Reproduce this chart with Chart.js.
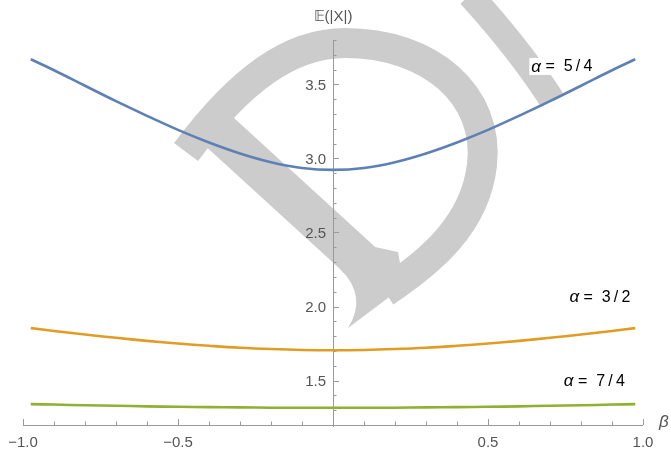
<!DOCTYPE html>
<html>
<head>
<meta charset="utf-8">
<script src="https://cdn.jsdelivr.net/npm/chart.js@4"></script>
<style>
html,body{margin:0;padding:0;background:#fff;}
#wrap{width:671px;height:452px;position:relative;}
</style>
</head>
<body>
<div id="wrap"><canvas id="c" width="671" height="452"></canvas></div>
<script>
// ---- data ----
const betaValues = [-0.975,-0.9,-0.8,-0.7,-0.6,-0.5,-0.4,-0.3,-0.2,-0.1,0,0.1,0.2,0.3,0.4,0.5,0.6,0.7,0.8,0.9,0.975];
const alpha54 = [3.67,3.596,3.491,3.387,3.288,3.193,3.108,3.034,2.975,2.936,2.923,2.936,2.975,3.034,3.108,3.193,3.288,3.387,3.491,3.596,3.67];
const alpha32 = [1.854,1.835,1.811,1.789,1.768,1.750,1.735,1.722,1.713,1.707,1.705,1.707,1.713,1.722,1.735,1.750,1.768,1.789,1.811,1.835,1.854];
const alpha74 = [1.341,1.338,1.333,1.330,1.326,1.323,1.321,1.319,1.317,1.317,1.316,1.317,1.317,1.319,1.321,1.323,1.326,1.330,1.333,1.338,1.341];
const seriesNames = ['5/4','3/2','7/4'];
const xTickLabels = ['\u22121.0','\u22120.5','0.5','1.0'];
const xTickValues = [-1,-0.5,0.5,1];
const yTickLabels = ['1.5','2.0','2.5','3.0','3.5'];
const yTickValues = [1.5,2.0,2.5,3.0,3.5];
const labelPos = [[0.738,3.618],[0.861,2.06],[0.843,1.496]];

const colors = ['#5E81B5','#E19C24','#8FB032'];
const toPts = arr => betaValues.map((b,i)=>({x:b,y:arr[i]}));

const watermark = {
  id:'watermark',
  beforeDatasetsDraw(chart){
    const ctx = chart.ctx;
    ctx.save();
    ctx.fillStyle = '#cccccc';
    ctx.strokeStyle = '#cccccc';
    ctx.lineCap = 'butt';
    // top arc + bowl
    ctx.lineWidth = 30;
    ctx.beginPath();
    ctx.moveTo(186,152);
    ctx.bezierCurveTo(240,80,290,43,345,43);
    ctx.bezierCurveTo(430,43,490,95,482,165);
    ctx.bezierCurveTo(475,225,430,262,385,292);
    ctx.stroke();
    // stem
    ctx.lineWidth = 40;
    ctx.beginPath();
    ctx.moveTo(212,125);
    ctx.lineTo(362,262);
    ctx.stroke();
    // hooked tail joining stem and bowl
    ctx.beginPath();
    ctx.moveTo(340,269);
    ctx.quadraticCurveTo(368,296,348,328);
    ctx.lineTo(404,286);
    ctx.lineTo(398,252);
    ctx.lineTo(375,247);
    ctx.closePath();
    ctx.fill();
    // right flourish
    ctx.lineWidth = 26;
    ctx.beginPath();
    ctx.moveTo(470,-5);
    ctx.quadraticCurveTo(520,50,552,100);
    ctx.stroke();
    ctx.restore();
  }
};

const axes = {
  id:'axes',
  beforeDatasetsDraw(chart){
    const ctx = chart.ctx, xs = chart.scales.x, ys = chart.scales.y;
    const x0 = xs.getPixelForValue(0), yb = ys.getPixelForValue(1.2);
    ctx.save();
    ctx.strokeStyle = '#9a9a9a';
    ctx.lineWidth = 1;
    ctx.beginPath();
    ctx.moveTo(xs.left, yb+0.5); ctx.lineTo(xs.right, yb+0.5);
    ctx.moveTo(x0+0.5, ys.top); ctx.lineTo(x0+0.5, yb+2);
    for(let k=-10;k<=10;k++){
      const v=k/10, p=Math.round(xs.getPixelForValue(v))+0.5;
      const len = (k%5===0)?6:3.5;
      ctx.moveTo(p,yb); ctx.lineTo(p,yb-len);
    }
    for(let k=12;k<=38;k++){
      const v=k/10, p=Math.round(ys.getPixelForValue(v))+0.5;
      const len = (k%5===0)?6:3.5;
      ctx.moveTo(x0,p); ctx.lineTo(x0+len,p);
    }
    ctx.stroke();
    ctx.fillStyle = '#555555';
    ctx.font = '15px "Liberation Sans", Arial, sans-serif';
    ctx.textAlign='center'; ctx.textBaseline='alphabetic';
    xTickValues.forEach((v,i)=>{
      ctx.fillText(xTickLabels[i], xs.getPixelForValue(v), yb+22);
    });
    ctx.textAlign='right'; ctx.textBaseline='middle';
    yTickValues.forEach((v,i)=>{
      ctx.fillText(yTickLabels[i], x0-7, ys.getPixelForValue(v)+1);
    });
    ctx.textAlign='center'; ctx.textBaseline='middle';
    ctx.fillText('\u{1D53C}(|X|)', x0, 17);
    ctx.font = 'italic 17px "Liberation Sans", Arial, sans-serif';
    ctx.textAlign='left'; ctx.textBaseline='alphabetic';
    ctx.fillText('\u03B2', 659, 427);
    ctx.restore();
  }
};

const labels = {
  id:'labels',
  afterDatasetsDraw(chart){
    const ctx = chart.ctx, xs = chart.scales.x, ys = chart.scales.y;
    ctx.save();
    seriesNames.forEach((n,i)=>{
      const cx = xs.getPixelForValue(labelPos[i][0]);
      const cy = ys.getPixelForValue(labelPos[i][1]);
      ctx.font = 'italic 17px "Liberation Sans", Arial, sans-serif';
      const a = '\u03B1';
      const wa = ctx.measureText(a).width;
      ctx.font = '16px "Liberation Sans", Arial, sans-serif';
      const rest = ' =  ' + n.replace('/', '\u2009/\u2009');
      const wr = ctx.measureText(rest).width;
      const w = wa + wr;
      const left = cx - w/2;
      if(i===0){
        ctx.fillStyle='#ffffff';
        ctx.fillRect(left-2, cy-9, w+4, 17);
      }
      ctx.fillStyle='#000';
      ctx.textBaseline='middle'; ctx.textAlign='left';
      ctx.font = 'italic 17px "Liberation Sans", Arial, sans-serif';
      ctx.fillText(a, left, cy);
      ctx.font = '16px "Liberation Sans", Arial, sans-serif';
      ctx.fillText(rest, left+wa, cy);
    });
    ctx.restore();
  }
};

new Chart(document.getElementById('c'), {
  type:'line',
  data:{
    datasets:[
      {label:'α = 5/4', data:toPts(alpha54), borderColor:colors[0], borderWidth:2.6, pointRadius:0, tension:0.4, fill:false},
      {label:'α = 3/2', data:toPts(alpha32), borderColor:colors[1], borderWidth:2.6, pointRadius:0, tension:0.4, fill:false},
      {label:'α = 7/4', data:toPts(alpha74), borderColor:colors[2], borderWidth:2.6, pointRadius:0, tension:0.4, fill:false}
    ]
  },
  options:{
    responsive:false, animation:false,
    layout:{padding:{left:23,right:28,top:40,bottom:27}},
    plugins:{legend:{display:false}, tooltip:{enabled:false}},
    scales:{
      x:{type:'linear', min:-1, max:1, display:false},
      y:{type:'linear', min:1.2, max:3.8, display:false}
    }
  },
  plugins:[watermark, axes, labels]
});
</script>
</body>
</html>
